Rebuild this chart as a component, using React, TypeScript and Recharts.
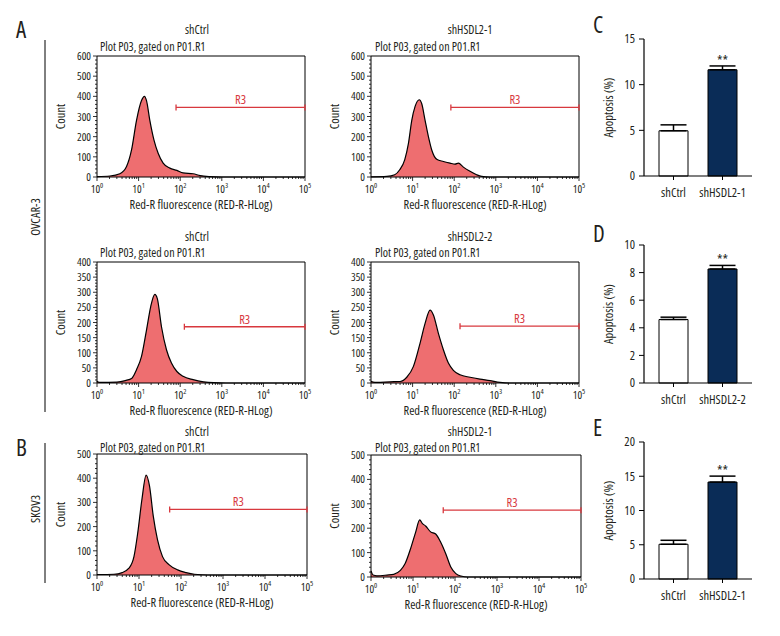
import React from 'react';
import {
  AreaChart,
  Area,
  BarChart,
  Bar,
  Cell,
  ErrorBar,
  XAxis,
  YAxis,
  ReferenceArea,
  ReferenceLine,
  ReferenceDot,
} from 'recharts';

// Open Sans squeezed to 75% width stands in for the condensed face of the original figure
const FONT = "'Open Sans', sans-serif";
const INK = '#231f20';
const SALMON = '#ee6e70';
const GATE = '#d8383e';
const NAVY = '#0a2c57';

// histogram traces: log10(fluorescence) vs. event count
const ovCtrlTopX = [0, 0.31, 0.55, 0.71, 0.83, 0.95, 1.07, 1.14, 1.19, 1.27, 1.37, 1.47, 1.59, 1.75, 1.92, 2.07, 2.31, 2.48, 2.71, 3.0, 5];
const ovCtrlTopY = [2, 5, 16, 52, 134, 281, 379, 400, 379, 281, 183, 118, 69, 44, 33, 20, 16, 7, 2, 0, 0];

const ovSh1X = [0, 0.38, 0.57, 0.69, 0.81, 0.9, 0.98, 1.06, 1.16, 1.22, 1.3, 1.38, 1.46, 1.58, 1.74, 1.9, 2.02, 2.1, 2.22, 2.38, 2.54, 2.66, 2.86, 5];
const ovSh1Y = [1, 3, 11, 36, 85, 167, 281, 350, 383, 363, 281, 200, 134, 88, 77, 69, 64, 69, 49, 28, 11, 3, 0, 0];

const ovCtrlMidX = [0, 0.03, 0.08, 0.48, 0.68, 0.84, 0.95, 1.07, 1.19, 1.29, 1.39, 1.45, 1.55, 1.67, 1.79, 1.92, 2.07, 2.31, 2.56, 2.8, 3.1, 5];
const ovCtrlMidY = [6, 3, 2, 3, 8, 16, 44, 88, 175, 252, 293, 279, 186, 110, 66, 38, 22, 11, 4, 1, 0, 0];

const ovSh2X = [0, 0.05, 0.14, 0.46, 0.7, 0.86, 1.02, 1.18, 1.3, 1.42, 1.5, 1.62, 1.74, 1.86, 1.98, 2.14, 2.38, 2.62, 2.86, 3.1, 3.34, 5];
const ovSh2Y = [6, 3, 2, 4, 5, 19, 55, 132, 197, 241, 225, 164, 110, 66, 42, 27, 19, 13, 8, 2, 0, 0];

const skCtrlX = [0, 0.4, 0.6, 0.76, 0.88, 0.97, 1.07, 1.17, 1.25, 1.34, 1.44, 1.56, 1.72, 1.92, 2.12, 2.32, 2.64, 5];
const skCtrlY = [2, 3, 10, 28, 76, 174, 313, 413, 368, 243, 146, 76, 42, 21, 10, 3, 0, 0];

const skSh1X = [0, 0.05, 0.14, 0.38, 0.54, 0.7, 0.81, 0.94, 1.06, 1.16, 1.22, 1.3, 1.42, 1.54, 1.66, 1.78, 1.9, 2.02, 2.14, 2.3, 5];
const skSh1Y = [25, 8, 5, 8, 11, 27, 54, 115, 182, 234, 220, 209, 185, 176, 142, 95, 41, 14, 4, 0, 0];

// axis ticks
const decades = [0, 1, 2, 3, 4, 5];
const logMinor = decades.slice(0, -1).flatMap((d) => [2, 3, 4, 5, 6, 7, 8, 9].map((m) => d + Math.log10(m)));
const counts600 = [0, 100, 200, 300, 400, 500, 600];
const counts400 = [0, 50, 100, 150, 200, 250, 300, 350, 400];
const counts500 = [0, 50, 100, 200, 300, 400, 500];

// bar panels: mean apoptosis % and upper error
const groupsC = ['shCtrl', 'shHSDL2-1'];
const meansC = [4.95, 11.63];
const errC = [0.65, 0.42];
const groupsD = ['shCtrl', 'shHSDL2-2'];
const meansD = [4.6, 8.26];
const errD = [0.17, 0.26];
const groupsE = ['shCtrl', 'shHSDL2-1'];
const meansE = [5.07, 14.15];
const errE = [0.58, 0.87];

const toRows = (xs: number[], ys: number[]) => xs.map((x, i) => ({ x, count: ys[i] }));

const LogTick = (props: any) => {
  const { x, y, payload } = props;
  const v = payload.value;
  const major = Math.abs(v - Math.round(v)) < 1e-6;
  return (
    <g>
      <line x1={x} x2={x} y1={y} y2={y + (major ? 4 : 2)} stroke="#000" strokeWidth={0.8} />
      {major && (
        <text x={x} y={y + 15.5} textAnchor="middle" fontSize={11} fontFamily={FONT} fill={INK}>
          10<tspan dy={-5} fontSize={7.5}>{Math.round(v)}</tspan>
        </text>
      )}
    </g>
  );
};

const CountTick = (props: any) => {
  const { x, y, payload, majors } = props;
  const major = majors.includes(payload.value);
  return (
    <g>
      <line x1={x - (major ? 4 : 2)} x2={x} y1={y} y2={y} stroke="#000" strokeWidth={0.8} />
      {major && (
        <text x={x - 6} y={y + 4} textAnchor="end" fontSize={11} fontFamily={FONT} fill={INK}>
          {payload.value}
        </text>
      )}
    </g>
  );
};

const sideLabel = (text: string, dx: number) => (p: any) => {
  const vb = p.viewBox;
  const cx = vb.x + dx;
  const cy = vb.y + vb.height / 2;
  return (
    <text x={cx} y={cy} transform={`rotate(-90 ${cx} ${cy})`} textAnchor="middle" dominantBaseline="central" fontSize={12.5} fontFamily={FONT} fill={INK}>
      {text}
    </text>
  );
};

const bottomLabel = (text: string, dy: number) => (p: any) => {
  const vb = p.viewBox;
  return (
    <text x={vb.x + vb.width / 2} y={vb.y + dy} textAnchor="middle" fontSize={12.5} fontFamily={FONT} fill={INK}>
      {text}
    </text>
  );
};

type HistProps = {
  left: number;
  top: number;
  width: number;
  height: number;
  xs: number[];
  ys: number[];
  yMax: number;
  majors: number[];
  minorStep: number;
  gateFrom: number;
  gateLevel: number;
};

const Histogram = ({ left, top, width, height, xs, ys, yMax, majors, minorStep, gateFrom, gateLevel }: HistProps) => {
  const rows = toRows(xs, ys);
  const yTicks: number[] = [];
  for (let v = 0; v <= yMax; v += minorStep) yTicks.push(v);
  const cap = (yMax / height) * 3;
  return (
    <div style={{ position: 'absolute', left: left - 50, top: top - 8 }}>
      <AreaChart width={50 + width + 8} height={8 + height + 40} data={rows} margin={{ top: 8, right: 8, left: 0, bottom: 0 }}>
        <XAxis
          dataKey="x"
          type="number"
          domain={[0, 5]}
          ticks={[...decades, ...logMinor]}
          interval={0}
          axisLine={false}
          tickLine={false}
          tickSize={0}
          tickMargin={0}
          height={40}
          tick={(p: any) => <LogTick {...p} />}
          label={bottomLabel('Red-R fluorescence (RED-R-HLog)', 31.5)}
        />
        <YAxis
          type="number"
          domain={[0, yMax]}
          ticks={yTicks}
          interval={0}
          axisLine={false}
          tickLine={false}
          tickSize={0}
          tickMargin={0}
          width={50}
          tick={(p: any) => <CountTick {...p} majors={majors} />}
          label={sideLabel('Count', 13)}
        />
        <Area type="monotone" dataKey="count" stroke="#000" strokeWidth={1.2} fill={SALMON} fillOpacity={1} dot={false} activeDot={false} isAnimationActive={false} />
        <ReferenceArea x1={0} x2={5} y1={0} y2={yMax} fill="none" fillOpacity={0} stroke="#000" strokeWidth={1} ifOverflow="visible" />
        <ReferenceLine segment={[{ x: gateFrom, y: gateLevel }, { x: 5, y: gateLevel }]} stroke={GATE} strokeWidth={1.3} ifOverflow="visible" />
        <ReferenceLine segment={[{ x: gateFrom, y: gateLevel - cap }, { x: gateFrom, y: gateLevel + cap }]} stroke={GATE} strokeWidth={1.3} ifOverflow="visible" />
        <ReferenceLine segment={[{ x: 5, y: gateLevel - cap }, { x: 5, y: gateLevel + cap }]} stroke={GATE} strokeWidth={1.3} ifOverflow="visible" />
        <ReferenceDot
          x={(gateFrom + 5) / 2}
          y={gateLevel}
          r={0}
          fill="none"
          stroke="none"
          ifOverflow="visible"
          label={{ value: 'R3', position: 'top', offset: 3, fill: GATE, fontSize: 12.5, fontFamily: FONT }}
        />
      </AreaChart>
    </div>
  );
};

type BarProps = {
  left: number;
  top: number;
  width: number;
  height: number;
  groups: string[];
  means: number[];
  errs: number[];
  yMax: number;
  yTicks: number[];
};

const BarPanel = ({ left, top, width, height, groups, means, errs, yMax, yTicks }: BarProps) => {
  const rows = groups.map((name, i) => ({ name, value: means[i], err: [0, errs[i]] }));
  return (
    <div style={{ position: 'absolute', left: left - 50, top: top - 10 }}>
      <BarChart width={50 + width + 6} height={10 + height + 40} data={rows} margin={{ top: 10, right: 6, left: 0, bottom: 0 }}>
        <XAxis
          dataKey="name"
          padding={{ left: 5, right: 5 }}
          axisLine={{ stroke: '#000', strokeWidth: 1.2 }}
          tickLine={{ stroke: '#000' }}
          tickSize={4}
          tickMargin={8}
          interval={0}
          height={40}
          tick={{ fill: INK, fontSize: 12.5, fontFamily: FONT }}
        />
        <YAxis
          type="number"
          domain={[0, yMax]}
          ticks={yTicks}
          interval={0}
          axisLine={{ stroke: '#000', strokeWidth: 1.2 }}
          tickLine={{ stroke: '#000' }}
          tickSize={5}
          tickMargin={4}
          width={50}
          tick={{ fill: INK, fontSize: 12.5, fontFamily: FONT }}
          label={sideLabel('Apoptosis (%)', 14)}
        />
        <Bar dataKey="value" barSize={29} stroke="#000" strokeWidth={1} isAnimationActive={false}>
          {rows.map((r, i) => (
            <Cell key={r.name} fill={i === 0 ? '#ffffff' : NAVY} />
          ))}
          <ErrorBar dataKey="err" width={13} stroke="#000" strokeWidth={1.5} direction="y" />
        </Bar>
        <ReferenceDot
          x={groups[1]}
          y={means[1] + errs[1]}
          r={0}
          fill="none"
          stroke="none"
          ifOverflow="visible"
          label={{ value: '**', position: 'top', offset: 0, fill: INK, fontSize: 14, fontFamily: FONT }}
        />
      </BarChart>
    </div>
  );
};

const txt = { fontFamily: FONT, fill: INK } as const;

export default function App() {
  return (
    <div
      style={{
        position: 'absolute',
        left: 0,
        top: 0,
        width: 780,
        height: 636,
        background: '#fff',
        overflow: 'hidden',
        fontFamily: FONT,
        fontStretch: '75%',
      }}
    >
      <Histogram left={97} top={56} width={208} height={121} xs={ovCtrlTopX} ys={ovCtrlTopY} yMax={600} majors={counts600} minorStep={20} gateFrom={1.9} gateLevel={345} />
      <Histogram left={371} top={56} width={208} height={121} xs={ovSh1X} ys={ovSh1Y} yMax={600} majors={counts600} minorStep={20} gateFrom={1.92} gateLevel={345} />
      <Histogram left={97} top={262} width={208} height={121} xs={ovCtrlMidX} ys={ovCtrlMidY} yMax={400} majors={counts400} minorStep={10} gateFrom={2.1} gateLevel={186} />
      <Histogram left={371} top={262} width={208} height={121} xs={ovSh2X} ys={ovSh2Y} yMax={400} majors={counts400} minorStep={10} gateFrom={2.14} gateLevel={188} />
      <Histogram left={97} top={454} width={210} height={121} xs={skCtrlX} ys={skCtrlY} yMax={500} majors={counts500} minorStep={20} gateFrom={1.73} gateLevel={271} />
      <Histogram left={371} top={455} width={210} height={122} xs={skSh1X} ys={skSh1Y} yMax={500} majors={counts500} minorStep={20} gateFrom={1.72} gateLevel={274} />

      <BarPanel left={644} top={39} width={108} height={137} groups={groupsC} means={meansC} errs={errC} yMax={15} yTicks={[0, 5, 10, 15]} />
      <BarPanel left={644} top={245} width={108} height={138} groups={groupsD} means={meansD} errs={errD} yMax={10} yTicks={[0, 2, 4, 6, 8, 10]} />
      <BarPanel left={644} top={442} width={108} height={137} groups={groupsE} means={meansE} errs={errE} yMax={20} yTicks={[0, 5, 10, 15, 20]} />

      <svg width={780} height={636} style={{ position: 'absolute', left: 0, top: 0, pointerEvents: 'none' }}>
        <text x={16} y={38} fontSize={23} {...txt}>A</text>
        <text x={16} y={456} fontSize={23} {...txt}>B</text>
        <text x={593} y={33} fontSize={23} {...txt}>C</text>
        <text x={593} y={242} fontSize={23} {...txt}>D</text>
        <text x={593} y={436} fontSize={23} {...txt}>E</text>

        <line x1={45} x2={45} y1={40} y2={412} stroke="#000" strokeWidth={1} />
        <line x1={45} x2={45} y1={443} y2={583} stroke="#000" strokeWidth={1} />
        <text x={35} y={217} transform="rotate(-90 35 217)" textAnchor="middle" dominantBaseline="central" fontSize={12.5} {...txt}>OVCAR-3</text>
        <text x={35} y={509} transform="rotate(-90 35 509)" textAnchor="middle" dominantBaseline="central" fontSize={12.5} {...txt}>SKOV3</text>

        <text x={197} y={34} textAnchor="middle" fontSize={12} {...txt}>shCtrl</text>
        <text x={470} y={34} textAnchor="middle" fontSize={12} {...txt}>shHSDL2-1</text>
        <text x={100} y={51} fontSize={12} {...txt}>Plot P03, gated on P01.R1</text>
        <text x={375} y={51} fontSize={12} {...txt}>Plot P03, gated on P01.R1</text>

        <text x={197} y={241} textAnchor="middle" fontSize={12} {...txt}>shCtrl</text>
        <text x={470} y={241} textAnchor="middle" fontSize={12} {...txt}>shHSDL2-2</text>
        <text x={100} y={257} fontSize={12} {...txt}>Plot P03, gated on P01.R1</text>
        <text x={375} y={257} fontSize={12} {...txt}>Plot P03, gated on P01.R1</text>

        <text x={197} y={436} textAnchor="middle" fontSize={12} {...txt}>shCtrl</text>
        <text x={470} y={436} textAnchor="middle" fontSize={12} {...txt}>shHSDL2-1</text>
        <text x={100} y={452} fontSize={12} {...txt}>Plot P03, gated on P01.R1</text>
        <text x={375} y={452} fontSize={12} {...txt}>Plot P03, gated on P01.R1</text>
      </svg>
    </div>
  );
}
